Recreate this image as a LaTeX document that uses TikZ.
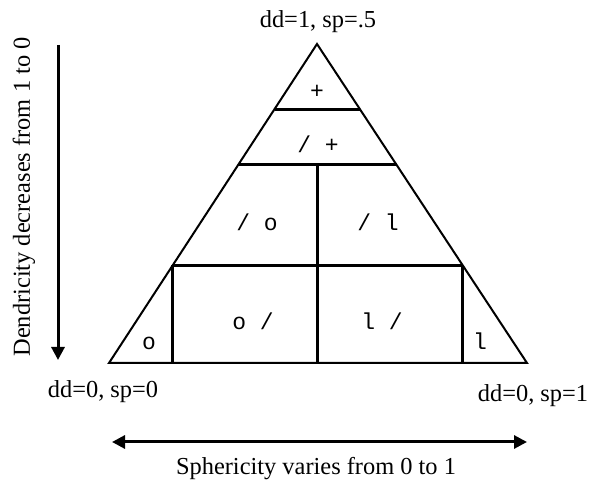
\documentclass[tikz,border=0pt]{standalone}
\usepackage{fontspec}
\setmainfont{Liberation Serif}
\setmonofont{Liberation Mono}
\usepackage{tikz}
\usetikzlibrary{arrows.meta, calc}
\usepackage{xcolor}
\definecolor{ink}{RGB}{0,0,0}

\begin{document}
\begin{tikzpicture}[x=1pt, y=1pt,
    edge/.style={ink, line width=2pt, line join=miter},
    divider/.style={ink, line width=3pt},
    axis/.style={ink, line width=3pt, -{Triangle[length=13pt,width=13pt]}},
    lbl/.style={font=\fontsize{24.4}{28}\selectfont, anchor=base, inner sep=0pt},
    sym/.style={font=\fontsize{23}{27}\selectfont\ttfamily, anchor=base, inner sep=0pt}]
  \useasboundingbox (0,0) rectangle (592,481);
  % Triangle corners
  \coordinate (A) at (317,437);
  \coordinate (BL) at (109,118);
  \coordinate (BR) at (527,118);
  \draw[edge] (A) -- (BL) -- (BR) -- cycle;
  % Horizontal dividers
  \coordinate (l1) at ($(BL)!0.796!(A)$);
  \coordinate (r1) at ($(BR)!0.796!(A)$);
  \coordinate (l2) at ($(BL)!0.621!(A)$);
  \coordinate (r2) at ($(BR)!0.621!(A)$);
  \coordinate (l3) at ($(BL)!0.307!(A)$);
  \coordinate (r3) at ($(BR)!0.307!(A)$);
  \draw[divider] (l1) -- (r1);
  \draw[divider] (l2) -- (r2);
  \draw[divider] (l3) -- (r3);
  % Vertical dividers
  \coordinate (m2) at ($(l2)!0.5!(r2)$);
  \draw[divider] (m2) -- (m2 |- BL);
  \draw[divider] (l3) -- (l3 |- BL);
  \draw[divider] (r3) -- (r3 |- BL);
  % Region symbols
  \node[sym] (plus) at (317,382) {+};
  \node[sym] (slplus) at (318,328) {/ +};
  \node[sym] (slo) at (257,250) {/ o};
  \node[sym] (sll) at (378,250) {/ l};
  \node[sym] (osl) at (253,151) {o /};
  \node[sym] (lsl) at (382,151) {l /};
  \node[sym] (o) at (149,131) {o};
  \node[sym] (l) at (480,131) {l};
  % Corner labels
  \node[lbl] (top) at (318,453) {dd=1, sp=.5};
  \node[lbl] (left) at (103,83) {dd=0, sp=0};
  \node[lbl] (right) at (533,79) {dd=0, sp=1};
  % Dendricity axis
  \coordinate (dtop) at (58,436);
  \coordinate (dbot) at (58,121);
  \draw[axis] (dtop) -- (dbot);
  \node[lbl, anchor=center, rotate=90] (dlabel) at (24,284) {Dendricity decreases from 1 to 0};
  % Sphericity axis
  \coordinate (sleft) at (112,39);
  \coordinate (sright) at (527,39);
  \draw[axis, {Triangle[length=13pt,width=13pt]}-{Triangle[length=13pt,width=13pt]}] (sleft) -- (sright);
  \node[lbl] (slabel) at (316,6) {Sphericity varies from 0 to 1};
\end{tikzpicture}
\end{document}
